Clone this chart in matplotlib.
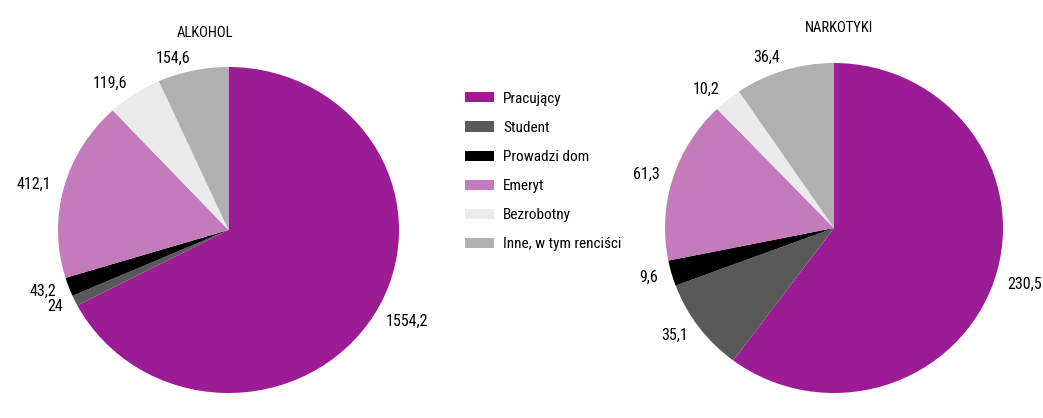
import matplotlib
matplotlib.use("Agg")
import matplotlib.pyplot as plt
from matplotlib.patches import Patch

categories = ["Pracujący", "Student", "Prowadzi dom", "Emeryt", "Bezrobotny", "Inne, w tym renciści"]
colors = ["#9c1c96", "#595959", "#000000", "#c47bbb", "#ebebeb", "#b0b0b0"]

alkohol = [1554.2, 24, 43.2, 412.1, 119.6, 154.6]
alkohol_labels = ["1554,2", "24", "43,2", "412,1", "119,6", "154,6"]
narkotyki = [230.5, 35.1, 9.6, 61.3, 10.2, 36.4]
narkotyki_labels = ["230,5", "35,1", "9,6", "61,3", "10,2", "36,4"]

# condensed face, closest to the original narrow font
plt.rcParams["font.family"] = ["Roboto Condensed", "DejaVu Sans"]

W, H = 1043, 418
fig = plt.figure(figsize=(W / 100, H / 100), dpi=100)


def pie_axes(x0, x1, y0, y1):
    # pixel box (top-left origin) -> figure coords
    return fig.add_axes([x0 / W, 1 - y1 / H, (x1 - x0) / W, (y1 - y0) / H])


def draw_pie(ax, values, labels, title, title_x):
    ax.pie(values, labels=labels, colors=colors, startangle=90, counterclock=False,
           labeldistance=1.08, textprops={"fontsize": 11.5})
    # the original pies are slightly wider than tall
    ax.set_aspect("auto")
    ax.set_xlim(-1, 1)
    ax.set_ylim(-1, 1)
    ax.text(title_x, 1.21, title, ha="center", va="center", fontsize=10.5)


ax1 = pie_axes(58, 399, 67, 393)
draw_pie(ax1, alkohol, alkohol_labels, "ALKOHOL", -0.14)

ax2 = pie_axes(665, 1003, 63, 393)
draw_pie(ax2, narkotyki, narkotyki_labels, "NARKOTYKI", 0.03)

handles = [Patch(facecolor=c, edgecolor="none") for c in colors]
fig.legend(handles, categories, loc="upper left", bbox_to_anchor=(451 / W, 1 - 78 / H),
           frameon=False, fontsize=11, handlelength=1.9, handleheight=0.65,
           labelspacing=0.99, handletextpad=0.6)

fig.savefig("out.png", dpi=100)
